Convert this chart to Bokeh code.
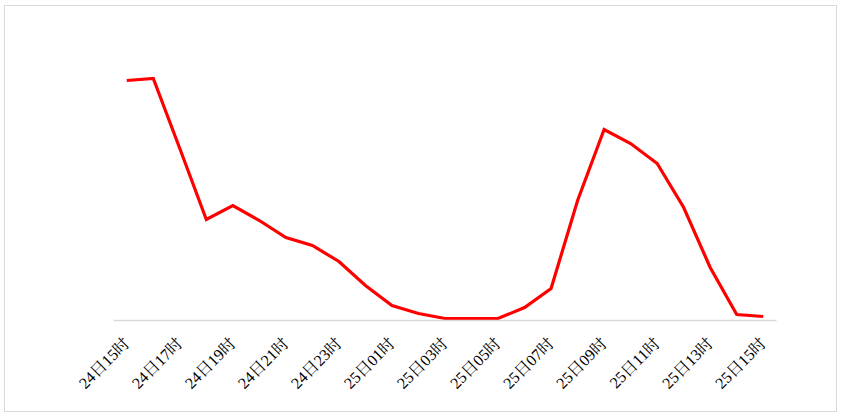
from bokeh.plotting import figure
from bokeh.models import FixedTicker, Range1d
from bokeh.embed import file_html
from bokeh.resources import INLINE
import math

hours = ["24日15时", "24日16时", "24日17时", "24日18时", "24日19时", "24日20时", "24日21时",
         "24日22时", "24日23时", "25日00时", "25日01时", "25日02时", "25日03时", "25日04时",
         "25日05时", "25日06时", "25日07时", "25日08时", "25日09时", "25日10时", "25日11时",
         "25日12时", "25日13时", "25日14时", "25日15时"]
values = [240, 242, 172, 101, 115, 100, 83, 75, 59, 35, 15, 7, 2, 2, 2, 13, 32, 120,
          191, 177, 157, 113, 53, 6, 4]

xs = list(range(len(hours)))

p = figure(width=833, height=407, output_backend="svg", toolbar_location=None,
           x_range=Range1d(-0.5, len(hours) - 0.5), y_range=Range1d(0, 300),
           min_border_left=108, min_border_right=62, min_border_top=14, min_border_bottom=93,
           styles={"border": "1px solid #d9d9d9", "margin-left": "4px", "margin-top": "5px"})
p.outline_line_color = None
p.grid.visible = False
p.yaxis.visible = False

p.line(xs, values, line_color="#ff0000", line_width=3.2, line_join="miter")

ax = p.xaxis[0]
ax.ticker = FixedTicker(ticks=xs[::2])
ax.major_label_overrides = {i: hours[i] for i in xs[::2]}
ax.major_label_orientation = math.pi / 4
ax.major_tick_line_color = None
ax.minor_tick_line_color = None
ax.axis_line_color = "#d9d9d9"
ax.axis_line_width = 1.5
ax.major_label_text_font = "'Liberation Serif', 'Noto Serif CJK SC', 'Noto Sans CJK SC'"
ax.major_label_text_font_size = "16px"
ax.major_label_text_color = "#000000"
ax.major_label_standoff = 14

open("out.html", "w").write(file_html(p, INLINE))
